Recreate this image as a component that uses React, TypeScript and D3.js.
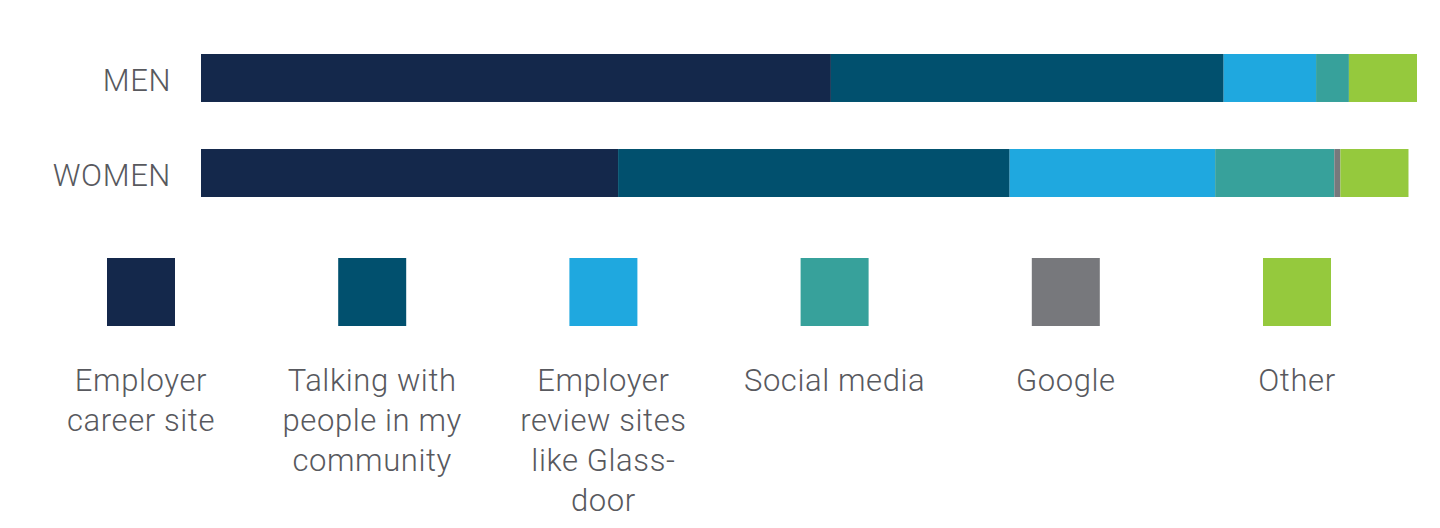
import * as d3 from 'd3';
import React from 'react';

const GROUPS = ["MEN", "WOMEN"];
const SOURCES = ["Employer career site", "Talking with people in my community", "Employer review sites like Glassdoor", "Social media", "Google", "Other"];
const SOURCE_LINES = [
  ["Employer", "career site"],
  ["Talking with", "people in my", "community"],
  ["Employer", "review sites", "like Glass-", "door"],
  ["Social media"],
  ["Google"],
  ["Other"]
];
const MEN_VALUES = [51.8, 32.3, 7.6, 2.7, 0, 5.6];
const WOMEN_VALUES = [34.3, 32.2, 16.9, 9.8, 0.5, 5.6];
const COLORS = ["#14284b", "#01506e", "#1fa8df", "#37a19b", "#77787c", "#95c93d"];

const WIDTH = 1440;
const HEIGHT = 528;
const TEXT_COLOR = "#58595e";
const FONT = "Roboto, 'DejaVu Sans', sans-serif";

const App: React.FC = () => {
  const values = [MEN_VALUES, WOMEN_VALUES];

  // bars
  const xScale = d3.scaleLinear().domain([0, 100]).range([201, 1417]);
  const yScale = d3.scaleBand()
    .domain(GROUPS)
    .range([54, 197])
    .paddingInner(0.495)
    .paddingOuter(0);

  const stacked = GROUPS.map((g, gi) => {
    let acc = 0;
    return values[gi].map((v, si) => {
      const seg = { group: g, source: SOURCES[si], x0: acc, x1: acc + v, color: COLORS[si] };
      acc += v;
      return seg;
    });
  });

  // legend
  const legendScale = d3.scalePoint<string>().domain(SOURCES).range([141, 1297]);
  const swatch = 68;

  return (
    <svg width={WIDTH} height={HEIGHT} style={{ position: "absolute", left: 0, top: 0, display: "block", background: "#fff" }}>
      {GROUPS.map(g => (
        <text
          key={g}
          x={171}
          y={yScale(g)! + yScale.bandwidth() / 2 + 2}
          dy="0.36em"
          textAnchor="end"
          fontFamily={FONT}
          fontWeight={300}
          letterSpacing={0.6}
          fontSize={31}
          fill={TEXT_COLOR}
        >
          {g}
        </text>
      ))}

      {stacked.map((segs, gi) => (
        <g key={GROUPS[gi]}>
          {segs.filter(s => s.x1 > s.x0).map(s => (
            <rect
              key={s.source}
              x={xScale(s.x0)}
              y={yScale(s.group)}
              width={xScale(s.x1) - xScale(s.x0)}
              height={yScale.bandwidth()}
              fill={s.color}
            />
          ))}
        </g>
      ))}

      {SOURCES.map((s, i) => {
        const cx = legendScale(s)!;
        return (
          <g key={s}>
            <rect x={cx - swatch / 2} y={258} width={swatch} height={swatch} fill={COLORS[i]} />
            <text
              textAnchor="middle"
              fontFamily={FONT}
              fontWeight={300}
              letterSpacing={0.6}
              fontSize={31}
              fill={TEXT_COLOR}
            >
              {SOURCE_LINES[i].map((line, li) => (
                <tspan key={li} x={cx} y={391 + li * 40}>{line}</tspan>
              ))}
            </text>
          </g>
        );
      })}
    </svg>
  );
};

export default App;
